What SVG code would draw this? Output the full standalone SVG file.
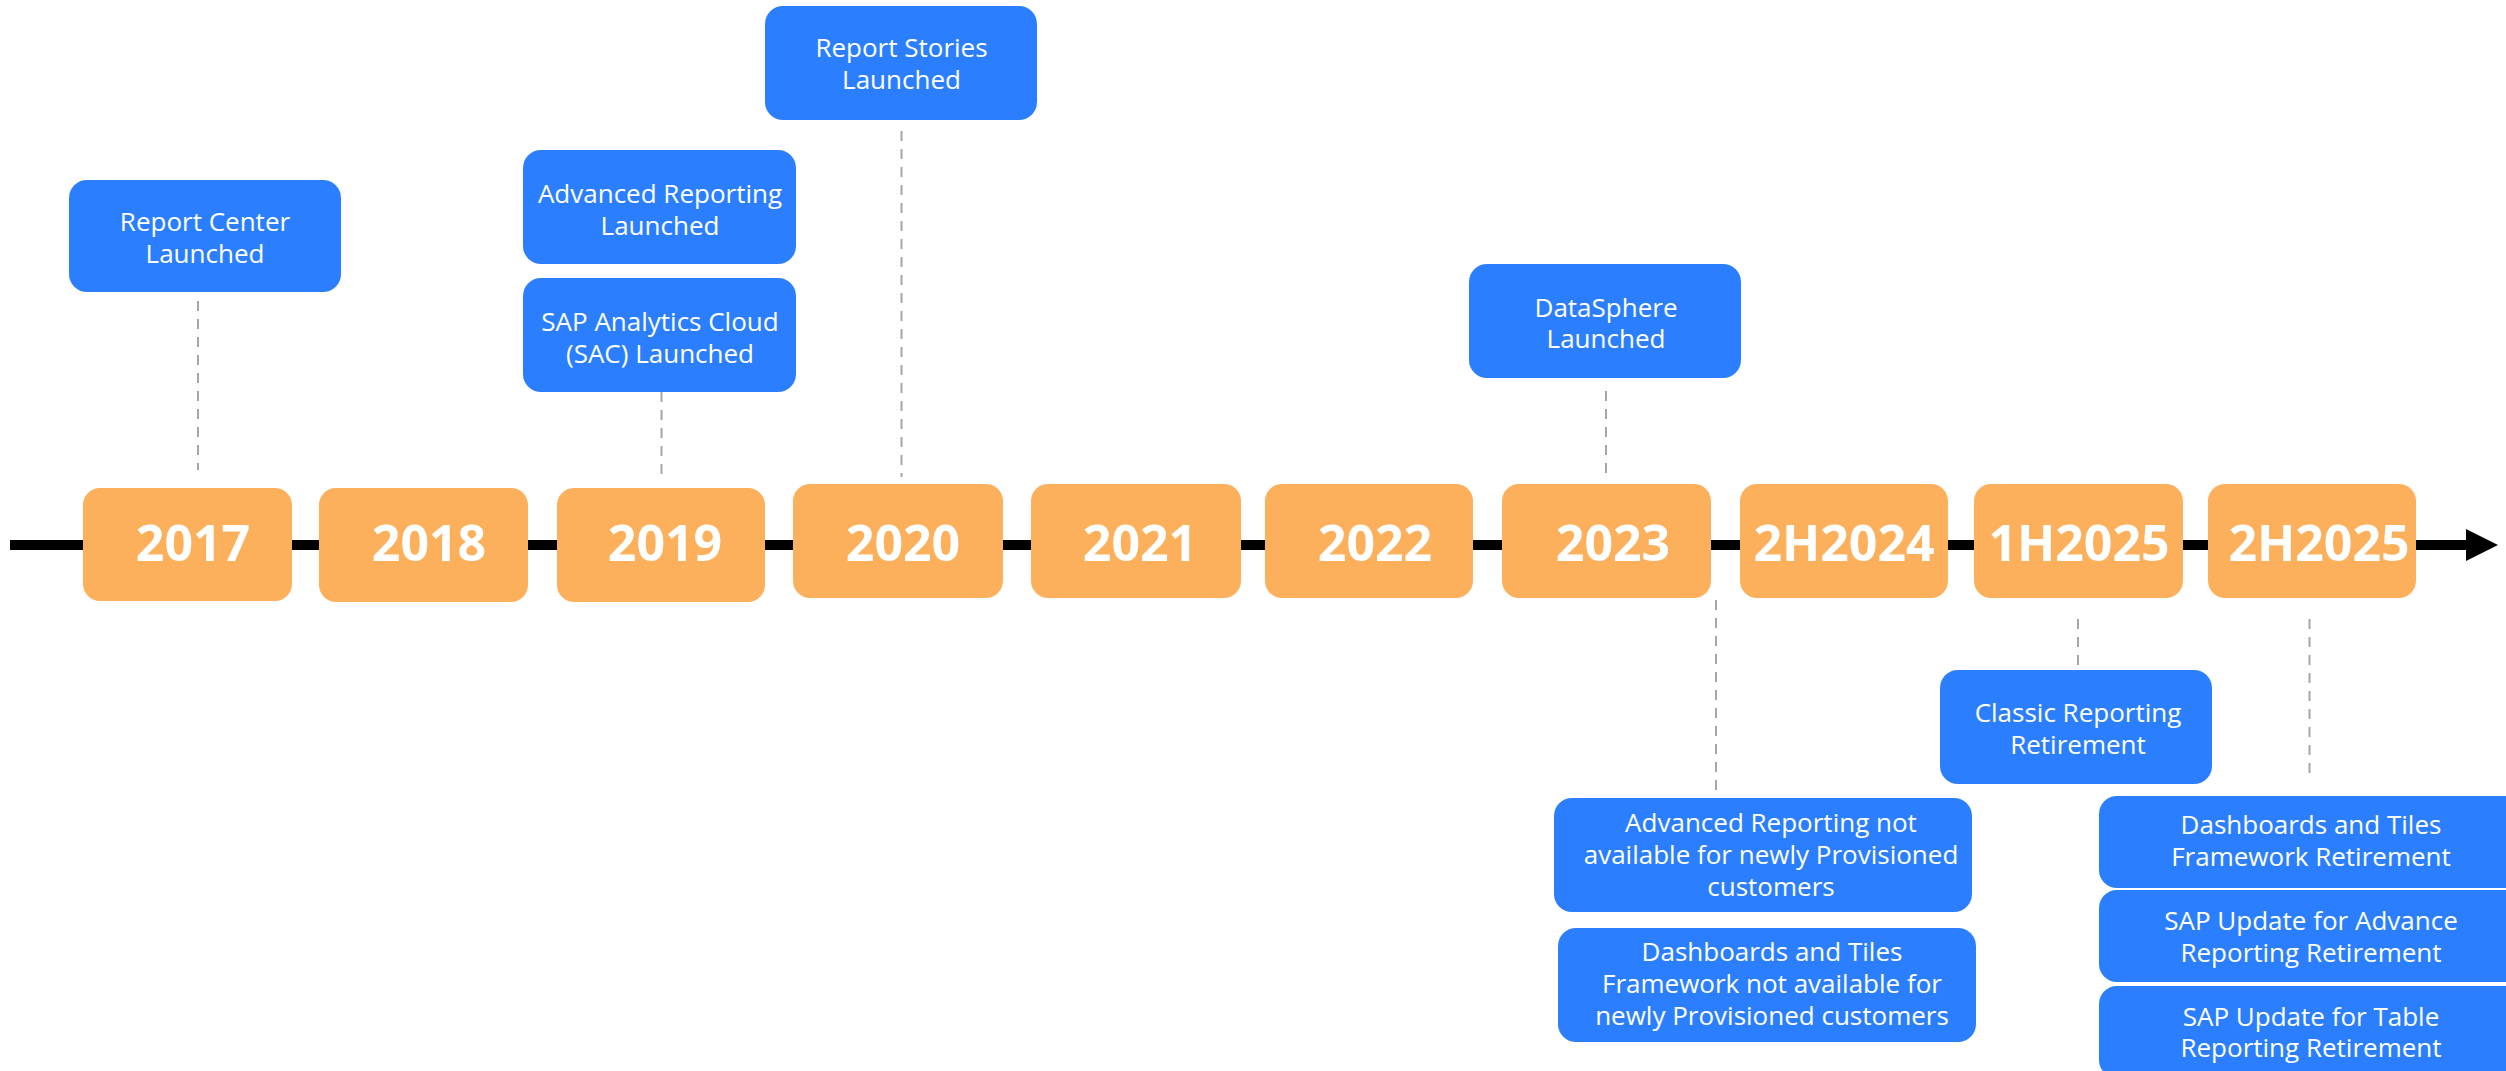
<svg xmlns="http://www.w3.org/2000/svg" width="2506" height="1071" viewBox="0 0 2506 1071">
<style>
.bg{fill:#ffffff}
.ev{fill:#2B7FFF}
.yr{fill:#FDB05B}
.t{font-family:"Open Sans","Liberation Sans",sans-serif;font-size:26px;fill:#ffffff;text-anchor:middle}
.y{font-family:"Open Sans","Liberation Sans",sans-serif;font-size:50px;font-weight:bold;fill:#ffffff;text-anchor:middle}
.dash{stroke:#A6A6A6;stroke-width:2;stroke-dasharray:10 8;fill:none}
.axis{stroke:#000000;stroke-width:10;fill:none}
</style>
<rect class="bg" x="0" y="0" width="2506" height="1071"/>
<g id="timeline-axis">
<line class="axis" x1="10" y1="545" x2="2468" y2="545"/>
<polygon points="2466,529 2498,545 2466,561" fill="#000000"/>
</g>
<g id="connectors">
<line class="dash" x1="198" y1="301" x2="198" y2="470"/>
<line class="dash" x1="661.5" y1="392" x2="661.5" y2="476"/>
<line class="dash" x1="901.5" y1="131" x2="901.5" y2="477"/>
<line class="dash" x1="1606" y1="391" x2="1606" y2="476"/>
<line class="dash" x1="1716" y1="600" x2="1716" y2="795"/>
<line class="dash" x1="2078" y1="619" x2="2078" y2="667"/>
<line class="dash" x1="2309.5" y1="619" x2="2309.5" y2="780"/>
</g>
<g id="y2017"><rect class="yr" x="83" y="488" width="209" height="113" rx="17"/><text class="y" x="193" y="561">2017</text></g>
<g id="y2018"><rect class="yr" x="319" y="488" width="209" height="114" rx="17"/><text class="y" x="429" y="561">2018</text></g>
<g id="y2019"><rect class="yr" x="557" y="488" width="208" height="114" rx="17"/><text class="y" x="665" y="561">2019</text></g>
<g id="y2020"><rect class="yr" x="793" y="484" width="210" height="114" rx="17"/><text class="y" x="903" y="561">2020</text></g>
<g id="y2021"><rect class="yr" x="1031" y="484" width="210" height="114" rx="17"/><text class="y" x="1140" y="561">2021</text></g>
<g id="y2022"><rect class="yr" x="1265" y="484" width="208" height="114" rx="17"/><text class="y" x="1375" y="561">2022</text></g>
<g id="y2023"><rect class="yr" x="1502" y="484" width="209" height="114" rx="17"/><text class="y" x="1613" y="561">2023</text></g>
<g id="y2h2024"><rect class="yr" x="1740" y="484" width="208" height="114" rx="17"/><text class="y" x="1844" y="561">2H2024</text></g>
<g id="y1h2025"><rect class="yr" x="1974" y="484" width="209" height="114" rx="17"/><text class="y" x="2079" y="561">1H2025</text></g>
<g id="y2h2025"><rect class="yr" x="2208" y="484" width="208" height="114" rx="17"/><text class="y" x="2319" y="561">2H2025</text></g>
<g id="report-center"><rect class="ev" x="69" y="180" width="272" height="112" rx="18"/><text class="t" x="205" y="231">Report Center</text><text class="t" x="205" y="263">Launched</text></g>
<g id="advanced-reporting"><rect class="ev" x="523" y="150" width="273" height="114" rx="18"/><text class="t" x="660" y="203">Advanced Reporting</text><text class="t" x="660" y="235">Launched</text></g>
<g id="sac"><rect class="ev" x="523" y="278" width="273" height="114" rx="18"/><text class="t" x="660" y="331">SAP Analytics Cloud</text><text class="t" x="660" y="363">(SAC) Launched</text></g>
<g id="report-stories"><rect class="ev" x="765" y="6" width="272" height="114" rx="18"/><text class="t" x="901.5" y="57">Report Stories</text><text class="t" x="901.5" y="89">Launched</text></g>
<g id="datasphere"><rect class="ev" x="1469" y="264" width="272" height="114" rx="18"/><text class="t" x="1606" y="317">DataSphere</text><text class="t" x="1606" y="348">Launched</text></g>
<g id="classic-retirement"><rect class="ev" x="1940" y="670" width="272" height="114" rx="18"/><text class="t" x="2078" y="722">Classic Reporting</text><text class="t" x="2078" y="754">Retirement</text></g>
<g id="adv-not-available"><rect class="ev" x="1554" y="798" width="418" height="114" rx="18"/><text class="t" x="1771" y="832">Advanced Reporting not</text><text class="t" x="1771" y="864">available for newly Provisioned</text><text class="t" x="1771" y="896">customers</text></g>
<g id="dash-not-available"><rect class="ev" x="1558" y="928" width="418" height="114" rx="18"/><text class="t" x="1772" y="961">Dashboards and Tiles</text><text class="t" x="1772" y="993">Framework not available for</text><text class="t" x="1772" y="1025">newly Provisioned customers</text></g>
<g id="dash-retirement"><rect class="ev" x="2099" y="796" width="430" height="92" rx="18"/><text class="t" x="2311" y="834">Dashboards and Tiles</text><text class="t" x="2311" y="866">Framework Retirement</text></g>
<g id="adv-update"><rect class="ev" x="2099" y="890" width="430" height="92" rx="18"/><text class="t" x="2311" y="930">SAP Update for Advance</text><text class="t" x="2311" y="962">Reporting Retirement</text></g>
<g id="table-update"><rect class="ev" x="2099" y="986" width="430" height="92" rx="18"/><text class="t" x="2311" y="1026">SAP Update for Table</text><text class="t" x="2311" y="1057">Reporting Retirement</text></g>
</svg>
